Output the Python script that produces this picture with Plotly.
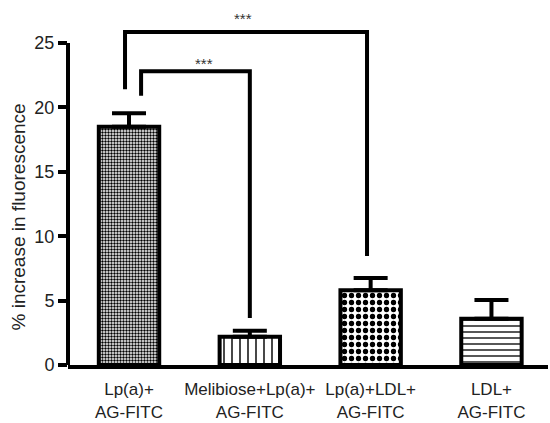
import plotly.graph_objects as go

categories = ["Lp(a)+<br>AG-FITC", "Melibiose+Lp(a)+<br>AG-FITC", "Lp(a)+LDL+<br>AG-FITC", "LDL+<br>AG-FITC"]
values = [18.5, 2.2, 5.8, 3.6]
errors = [1.05, 0.45, 0.95, 1.45]
y_ticks = [0, 5, 10, 15, 20, 25]
patterns = [".", "|", ".", "-"]
pattern_sizes = [3, 8, 7, 6]
pattern_solid = [0.5, 0.18, 0.45, 0.22]

# significance brackets: (x_left, x_right, y_top, y_left_bottom, y_right_bottom, star_x, star_y)
brackets = [
    (-0.033, 1.97, 25.85, 21.4, 8.46, 0.94, 27.2),
    (0.10, 1.0, 22.8, 20.9, 3.65, 0.62, 23.75),
]

FONT = "Liberation Sans, Arial, sans-serif"
x = list(range(len(categories)))

fig = go.Figure()
fig.add_trace(go.Bar(
    x=x, y=values, width=0.5,
    marker=dict(
        color="white",
        line=dict(color="black", width=4),
        pattern=dict(shape=patterns, size=pattern_sizes, solidity=pattern_solid,
                     fgcolor="black", bgcolor="white", fillmode="replace"),
    ),
    error_y=dict(type="data", array=errors, arrayminus=[0] * len(errors), symmetric=False,
                 color="black", thickness=4, width=17),
    showlegend=False,
))

shapes = []
# y axis line from 0 to 25
shapes.append(dict(type="line", xref="paper", yref="y", x0=0, x1=0, y0=0, y1=25,
                   line=dict(color="black", width=4)))
annotations = []
for (xl, xr, yt, ylb, yrb, sx, sy) in brackets:
    shapes.append(dict(type="path", xref="x", yref="y",
                       path=f"M {xl},{ylb} L {xl},{yt} L {xr},{yt} L {xr},{yrb}",
                       line=dict(color="black", width=4)))
    annotations.append(dict(x=sx, y=sy, xref="x", yref="y", text="***", showarrow=False,
                            yshift=-4, font=dict(size=15, color="#333333", family=FONT)))

annotations.append(dict(x=-0.104, y=0.41, xref="paper", yref="paper",
                        xanchor="center", yanchor="middle",
                        text="% increase in fluorescence", textangle=-90, showarrow=False,
                        font=dict(size=19, color="#222", family=FONT)))

fig.update_layout(
    width=550, height=423,
    margin=dict(l=68, r=2, t=5, b=58),
    plot_bgcolor="white", paper_bgcolor="white",
    font=dict(family=FONT, color="#222", size=18),
    shapes=shapes, annotations=annotations,
    xaxis=dict(range=[-0.505, 3.468], tickvals=x, ticktext=categories,
               showline=True, linewidth=4, linecolor="black", ticks="",
               showgrid=False, zeroline=False, tickfont=dict(size=17),
               ticklabelstandoff=6),
    yaxis=dict(range=[0, 27.95], tickvals=y_ticks, ticks="outside", ticklen=9,
               tickwidth=4, tickcolor="black", showline=False, showgrid=False,
               zeroline=False, tickfont=dict(size=18)),
)
fig.write_html("out.html")
